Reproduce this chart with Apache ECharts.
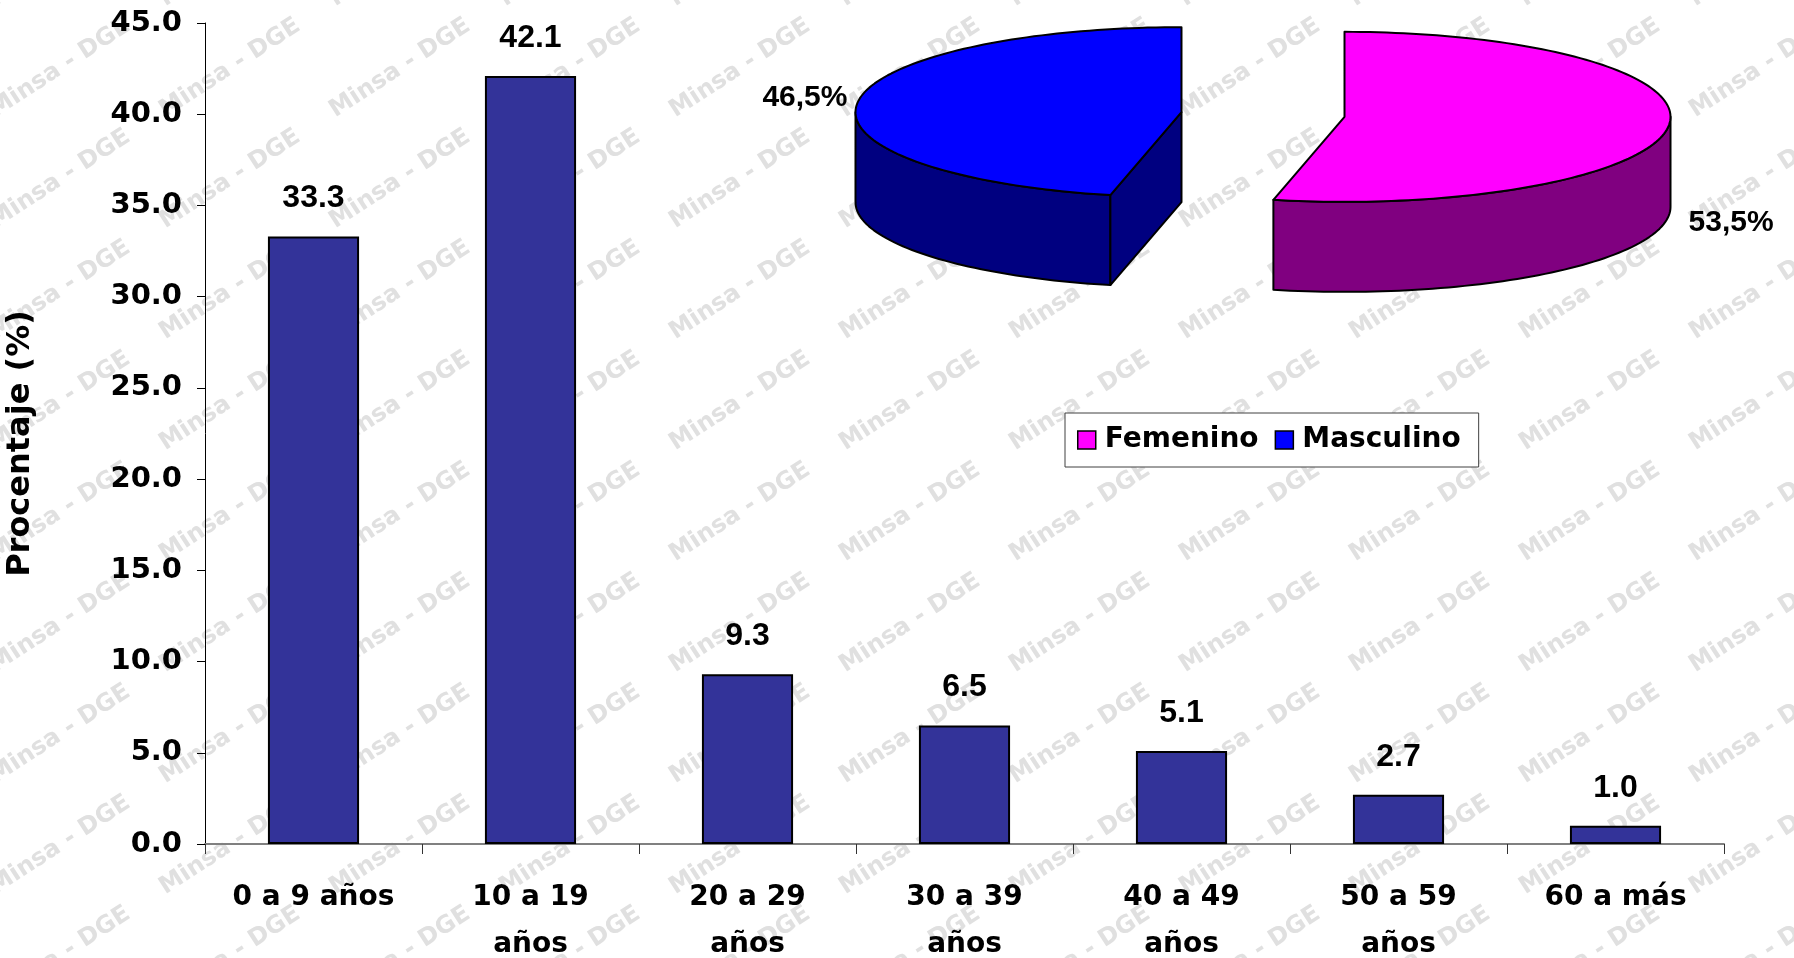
<!DOCTYPE html>
<html>
<head>
<meta charset="utf-8">
<script src="https://cdn.jsdelivr.net/npm/echarts@6/dist/echarts.min.js"></script>
<style>
html,body{margin:0;padding:0;background:#fff;}
#chart{width:1794px;height:958px;}
</style>
</head>
<body>
<div id="chart"></div>
<script>
// ---- data ----
const categories = ['0 a 9 años', '10 a 19\naños', '20 a 29\naños', '30 a 39\naños', '40 a 49\naños', '50 a 59\naños', '60 a más'];
const percentages = [33.3, 42.1, 9.3, 6.5, 5.1, 2.7, 1.0];
const yAxisMin = 0;
const yAxisMax = 45;
const yAxisStep = 5;
const yAxisTitle = 'Procentaje (%)';
const sexNames = ['Femenino', 'Masculino'];
const sexValues = [53.5, 46.5];
const watermarkText = 'Minsa - DGE';

// ---- styles / layout ----
const topColors = ['#FF00FF', '#0000FF'];
const sideColors = ['#800080', '#000080'];
const pieBase = { cx: 1263, cy: 114.5, rx: 326, ry: 85, depth: 90, explode: 82 };
const pieLabelOffsets = [
  { dx: 20, dy: 97, align: 'left' },
  { dx: -10, dy: -5, align: 'right' }
];

const total = sexValues.reduce((a, b) => a + b, 0);
const rad = d => d * Math.PI / 180;

function makeSliceSeries(i) {
  return {
    type: 'custom',
    name: sexNames[i],
    coordinateSystem: 'none',
    silent: true,
    z: 3,
    itemStyle: { color: topColors[i], borderColor: '#000', borderWidth: 1.5 },
    data: [[sexValues[i]]],
    renderItem: function (params, api) {
      const v = api.value(0);
      let before = 0;
      for (let k = 0; k < i; k++) before += sexValues[k];
      // clockwise from 12 o'clock
      const aStart = 90 - 360 * before / total;
      const aEnd = 90 - 360 * (before + v) / total;
      const lo = aEnd, hi = aStart; // ccw range [lo, hi]
      const mid = (lo + hi) / 2;
      const { rx, ry, depth, explode } = pieBase;
      const cx = pieBase.cx + Math.cos(rad(mid)) * explode;
      const cy = pieBase.cy - Math.sin(rad(mid)) * explode * (ry / rx);
      const P = (t, d) => [cx + rx * Math.cos(rad(t)), cy - ry * Math.sin(rad(t)) + (d || 0)];
      const arc = (a, b, d) => {
        const pts = [];
        const n = Math.max(2, Math.ceil(Math.abs(b - a) / 1.5));
        for (let s = 0; s <= n; s++) pts.push(P(a + (b - a) * s / n, d));
        return pts;
      };
      const children = [];
      const stroke = { stroke: '#000', lineWidth: 2, lineJoin: 'round' };
      // outer side walls (front half: angles where sin < 0)
      for (let k = -2; k <= 1; k++) {
        const s = Math.max(lo, 180 + 360 * k);
        const e = Math.min(hi, 360 + 360 * k);
        if (e - s > 0.01) {
          const pts = arc(s, e, 0).concat(arc(e, s, depth));
          children.push({ type: 'polygon', shape: { points: pts }, style: Object.assign({ fill: sideColors[i] }, stroke) });
        }
      }
      // cut faces
      const faces = [];
      if (Math.cos(rad(lo)) > 1e-6) faces.push(lo);
      if (Math.cos(rad(hi)) < -1e-6) faces.push(hi);
      faces.forEach(t => {
        const pts = [[cx, cy], P(t, 0), P(t, depth), [cx, cy + depth]];
        children.push({ type: 'polygon', shape: { points: pts }, style: Object.assign({ fill: sideColors[i] }, stroke) });
      });
      // top face
      const topPts = [[cx, cy]].concat(arc(lo, hi, 0));
      children.push({ type: 'polygon', shape: { points: topPts }, style: Object.assign({ fill: topColors[i] }, stroke) });
      // label
      const lp = P(mid, 0);
      const off = pieLabelOffsets[i];
      children.push({
        type: 'text',
        style: {
          text: v.toFixed(1).replace('.', ',') + '%',
          x: lp[0] + off.dx, y: lp[1] + off.dy,
          fill: '#000',
          font: 'bold 30px "Liberation Sans", Arial, sans-serif',
          align: off.align, verticalAlign: 'middle'
        }
      });
      return { type: 'group', children: children };
    }
  };
}

// watermark (decoration)
const wm = [];
for (let x = 1080 - 170 * 8; x < 1900; x += 170) {
  for (let y = 623 - 111 * 7; y < 1020; y += 111) {
    wm.push({
      type: 'text', x: x, y: y, rotation: rad(33), z: -10, silent: true,
      style: {
        text: watermarkText, fill: '#e0e0e0',
        font: 'bold 24px "DejaVu Sans", sans-serif',
        align: 'center', verticalAlign: 'middle'
      }
    });
  }
}

const chart = echarts.init(document.getElementById('chart'), null, { renderer: 'canvas' });
chart.setOption({
  backgroundColor: '#fff',
  animation: false,
  graphic: { elements: wm },
  grid: { left: 205, right: 70, top: 23, bottom: 114, containLabel: false, outerBoundsMode: 'none' },
  legend: {
    data: [
      { name: sexNames[0], itemStyle: { color: topColors[0], borderColor: '#000', borderWidth: 1.5 } },
      { name: sexNames[1], itemStyle: { color: topColors[1], borderColor: '#000', borderWidth: 1.5 } }
    ],
    left: 1065, top: 413,
    padding: [13, 18, 13, 12],
    itemWidth: 18, itemHeight: 18, itemGap: 16,
    icon: 'rect',
    backgroundColor: '#fff',
    borderColor: '#404040', borderWidth: 1,
    selectedMode: false,
    textStyle: { fontFamily: '"DejaVu Sans", sans-serif', fontWeight: 'bold', fontSize: 28, color: '#000', padding: [0, 0, 0, 4] }
  },
  xAxis: {
    type: 'category',
    data: categories,
    axisLine: { show: true, lineStyle: { color: '#808080', width: 2 } },
    axisTick: { show: true, length: 10, lineStyle: { color: '#333', width: 1 } },
    axisLabel: {
      interval: 0, margin: 30, lineHeight: 47,
      color: '#000', fontFamily: '"DejaVu Sans", sans-serif', fontWeight: 'bold', fontSize: 28
    },
    splitLine: { show: false }
  },
  yAxis: {
    type: 'value',
    min: yAxisMin, max: yAxisMax, interval: yAxisStep,
    name: yAxisTitle,
    nameLocation: 'middle', nameRotate: 90, nameGap: 168,
    nameTextStyle: { color: '#000', fontFamily: '"DejaVu Sans", sans-serif', fontWeight: 'bold', fontSize: 32, padding: [0, 20, 0, 0] },
    axisLine: { show: true, lineStyle: { color: '#000', width: 1 } },
    axisTick: { show: true, length: 8, lineStyle: { color: '#000', width: 1 } },
    axisLabel: {
      margin: 23, color: '#000', fontFamily: '"DejaVu Sans", sans-serif', fontWeight: 'bold', fontSize: 29,
      formatter: v => v.toFixed(1)
    },
    splitLine: { show: false }
  },
  series: [
    {
      type: 'bar',
      name: 'Porcentaje',
      data: percentages,
      barWidth: '42%',
      z: 2,
      itemStyle: { color: '#333399', borderColor: '#000', borderWidth: 2 },
      label: {
        show: true, position: 'top', distance: 22,
        color: '#000', fontFamily: '"Liberation Sans", Arial, sans-serif', fontWeight: 'bold', fontSize: 32,
        formatter: p => p.value.toFixed(1)
      }
    },
    makeSliceSeries(0),
    makeSliceSeries(1)
  ]
});
</script>
</body>
</html>
